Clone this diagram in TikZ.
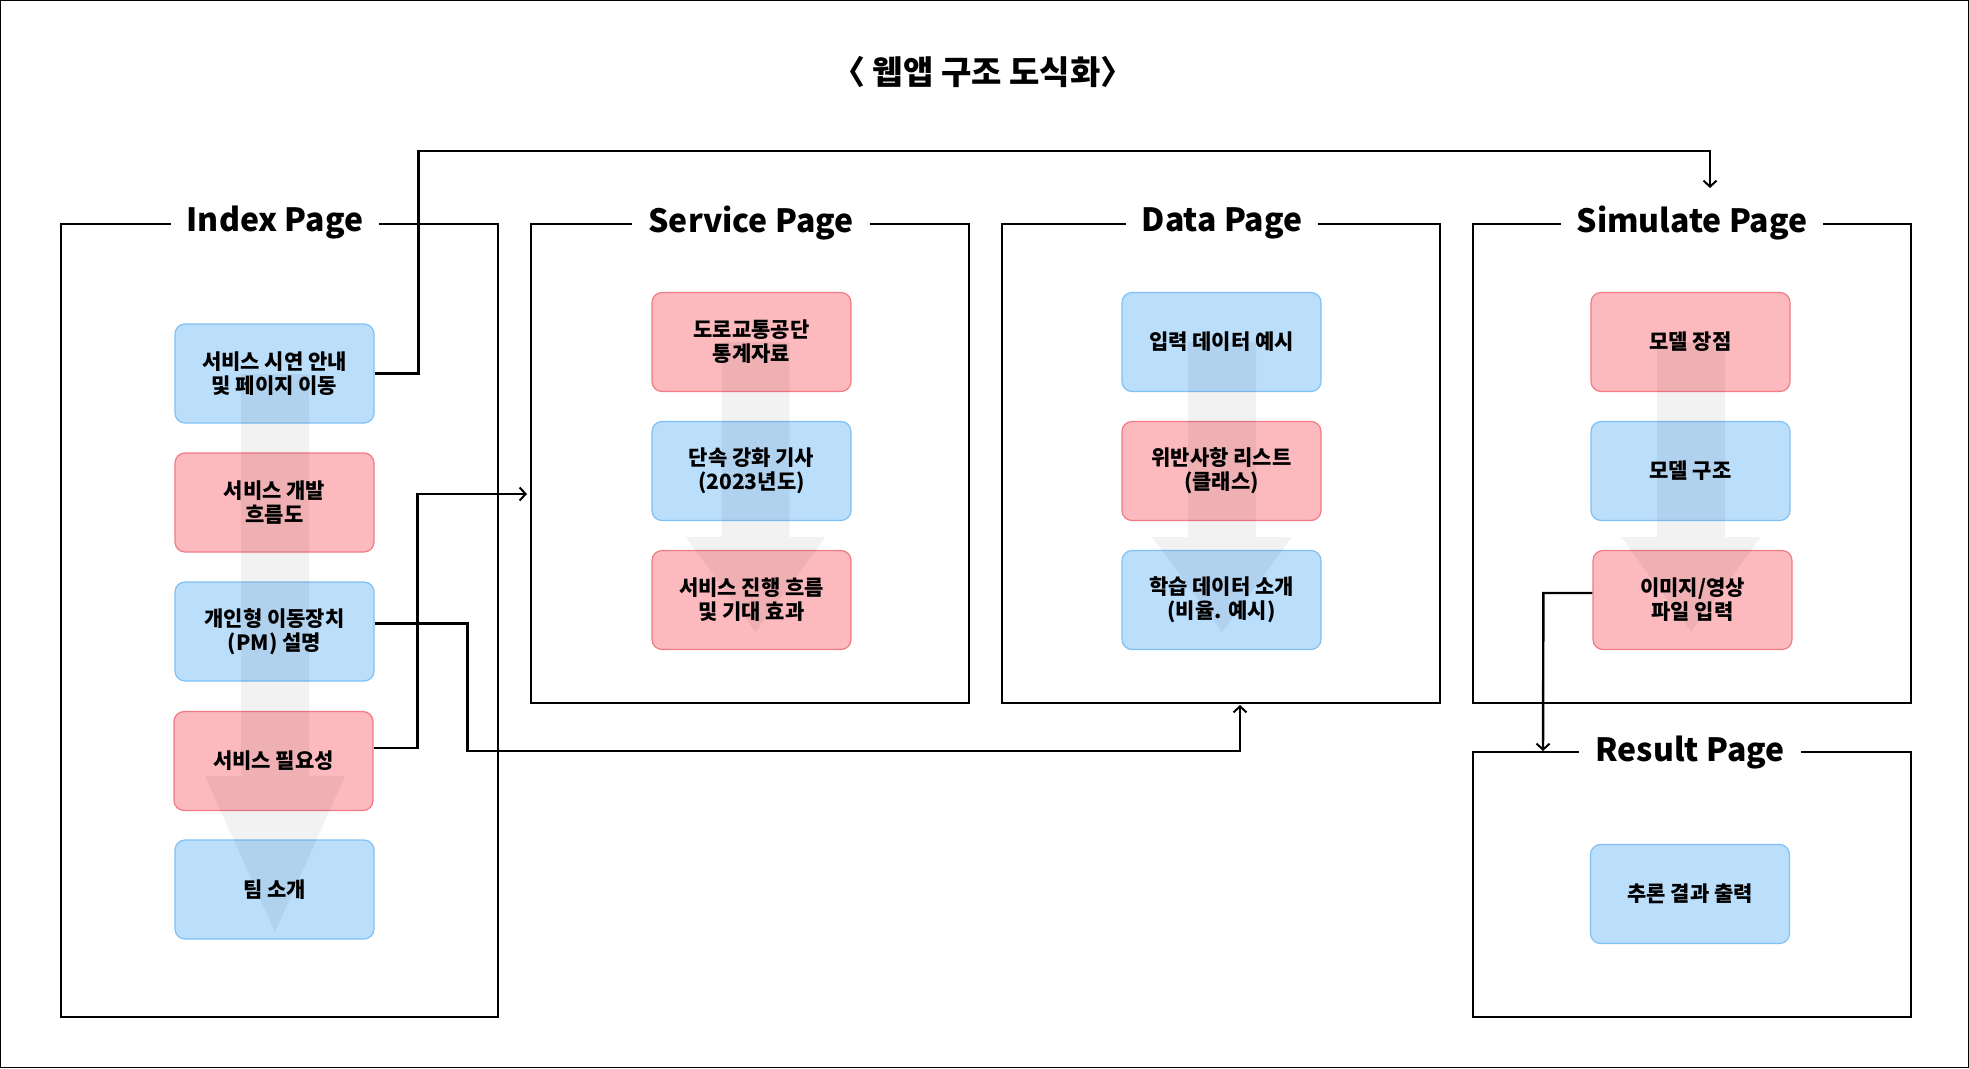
\documentclass[tikz,border=0pt]{standalone}
\usepackage{fontspec}
\setmainfont{Noto Sans CJK KR}
\usetikzlibrary{arrows.meta}

\definecolor{boxblue}{HTML}{BBDEFB}
\definecolor{boxblueline}{HTML}{7FC0F5}
\definecolor{boxred}{HTML}{FCBABE}
\definecolor{boxredline}{HTML}{F27A84}

\newcommand{\boxfont}{\fontsize{21}{24}\selectfont\bfseries}
\newcommand{\pagefont}{\fontsize{32}{38}\selectfont\bfseries}
\newcommand{\flowarrow}[4]{%
	\fill [black, opacity = 0.05] (#1-34,#2) -- (#1+34,#2) -- (#1+34,#3) -- (#1+70,#3)
		-- (#1,#4) -- (#1-70,#3) -- (#1-34,#3) -- cycle;}

\tikzset{
	bluebox/.style = {draw = boxblueline, fill = boxblue, line width = 1.2pt, rounded corners = 10pt,
		minimum width = 199pt, minimum height = 99pt, align = center, font = \boxfont},
	redbox/.style = {bluebox, draw = boxredline, fill = boxred},
	pagetitle/.style = {fill = white, inner xsep = 16pt, inner ysep = 1pt, font = \pagefont},
	pageframe/.style = {line width = 1.5pt},
	link/.style = {line width = 2.4pt, -{Straight Barb[length = 6pt, width = 13pt, line width = 2pt]}}
}

\begin{document}
\begin{tikzpicture}[x = 1pt, y = -1pt]
	\useasboundingbox (0,0) rectangle (1969,1068);
	\draw [line width = 1.2pt] (0.6,0.6) rectangle (1968.4,1067.4);

	\node [font = \fontsize{33}{40}\selectfont\bfseries] (title) at (983,72) {〈 웹앱 구조 도식화〉};

	% page frames
	\draw [pageframe] (61,224) rectangle (498,1017);
	\draw [pageframe] (531,224) rectangle (969,703);
	\draw [pageframe] (1002,224) rectangle (1440,703);
	\draw [pageframe] (1473,224) rectangle (1911,703);
	\draw [pageframe] (1473,752) rectangle (1911,1017);

	\node [pagetitle] (indextitle) at (275,223) {Index Page};
	\node [pagetitle] (servicetitle) at (751,223) {Service Page};
	\node [pagetitle] (datatitle) at (1222,223) {Data Page};
	\node [pagetitle] (simtitle) at (1692,223) {Simulate Page};
	\node [pagetitle] (resulttitle) at (1690,753) {Result Page};

	% index page
	\node [bluebox] (index1) at (274.5,373.5) {서비스 시연 안내\\및 페이지 이동};
	\node [redbox] (index2) at (274.5,502.5) {서비스 개발\\흐름도};
	\node [bluebox] (index3) at (274.5,631.5) {개인형 이동장치\\(PM) 설명};
	\node [redbox] (index4) at (273.5,761) {서비스 필요성};
	\node [bluebox] (index5) at (274.5,889.5) {팀 소개};

	% service page
	\node [redbox] (service1) at (751.5,342) {도로교통공단\\통계자료};
	\node [bluebox] (service2) at (751.5,471) {단속 강화 기사\\(2023년도)};
	\node [redbox] (service3) at (751.5,600) {서비스 진행 흐름\\및 기대 효과};

	% data page
	\node [bluebox] (data1) at (1221.5,342) {입력 데이터 예시};
	\node [redbox] (data2) at (1221.5,471) {위반사항 리스트\\(클래스)};
	\node [bluebox] (data3) at (1221.5,600) {학습 데이터 소개\\(비율. 예시)};

	% simulate and result page
	\node [redbox] (sim1) at (1690.5,342) {모델 장점};
	\node [bluebox] (sim2) at (1690.5,471) {모델 구조};
	\node [redbox] (sim3) at (1692.5,600) {이미지/영상\\파일 입력};
	\node [bluebox] (result1) at (1690,894) {추론 결과 출력};

	\flowarrow{275}{374}{776}{932}
	\flowarrow{755.5}{342}{537}{632}
	\flowarrow{1222}{342}{537}{632}
	\flowarrow{1691}{342}{537}{632}

	% links between pages
	\coordinate (simin) at (1710,188);
	\coordinate (servicein) at (527,494);
	\coordinate (datain) at (1240,705);
	\coordinate (resultin) at (1543,751);

	\draw [link] (index1.east) -- ++(44,0) |- (1710,151) -- (simin);
	\draw [link] ([yshift = 13pt] index4.east) -- ++(44,0) |- (servicein);
	\draw [link] ([yshift = 8pt] index3.east) -- ++(93,0) |- (1240,751) -- (datain);
	\draw [link] ([yshift = 7pt] sim3.west) -- ++(-49,0) -- (resultin);
\end{tikzpicture}
\end{document}
